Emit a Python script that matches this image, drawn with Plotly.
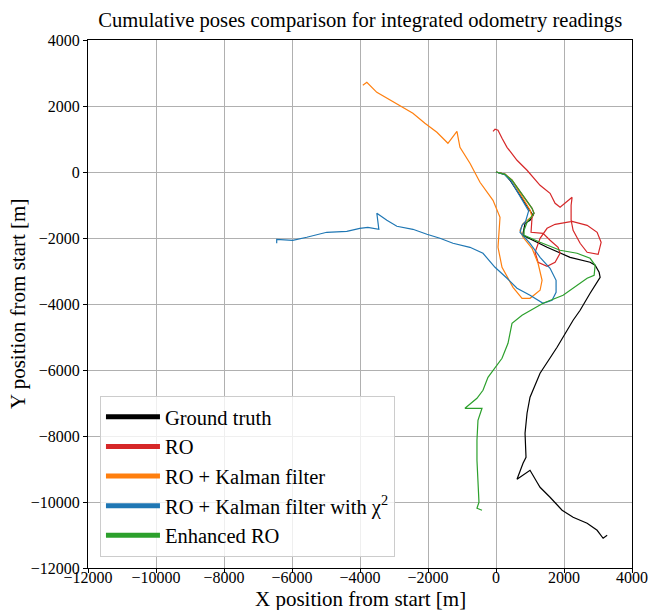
import plotly.graph_objects as go

# Ground truth
gt_x = [0, 265, 412, 1001, 1090, 1001, 854, 795, 795, 1502, 1885, 2179, 2768, 2916, 3033, 3063,
        2768, 2474, 2268, 1796, 1296, 1001, 913, 854, 883, 795, 618, 1001, 1207, 1296, 1590,
        1944, 2268, 2680, 2974, 3151, 3269]
gt_y = [0, -70, -250, -1160, -1312, -1463, -1554, -1857, -1918, -2282, -2463, -2585, -2736, -2827,
        -3039, -3191, -3675, -4190, -4493, -5311, -6099, -6826, -7311, -7917, -8644, -8826, -9311,
        -9038, -9402, -9554, -9857, -10251, -10463, -10645, -10857, -11099, -11008]

# RO
ro_x = [0, 265, 471, 1060, 1119, 1060, 1031, 1384, 1590, 1826, 1885, 1738, 1502, 1237, 1149, 1296,
        1502, 1738, 2238, 2680, 2974, 3092, 3004, 2680, 2474, 2268, 2209, 2209, 2238, 2032, 1885,
        1738, 1590, 1296, 913, 618, 324, 177, 59, -29, -88]
ro_y = [0, -70, -250, -1100, -1251, -1373, -1827, -1857, -2069, -2282, -2463, -2736, -2857, -2736,
        -2433, -2009, -1706, -1585, -1494, -1615, -1827, -2130, -2494, -2433, -2160, -1766, -1463,
        -1009, -767, -948, -1070, -948, -645, -403, 52, 355, 748, 1021, 1264, 1294, 1233]

# RO + Kalman filter
kf_x = [0, 265, 471, 1000, 1060, 795, 707, 795, 1060, 1237, 1355, 1296, 1001, 766, 501, 177, 59,
        118, 118, -88, -471, -766, -1060, -1149, -1414, -1738, -2091, -2444, -2739, -3210, -3505,
        -3799, -3917]
kf_y = [0, -70, -250, -1150, -1350, -1563, -1766, -1978, -2312, -2766, -3281, -3584, -3827, -3827,
        -3494, -2888, -2282, -1554, -1373, -857, -312, 264, 749, 1233, 870, 1203, 1476, 1779, 1961,
        2233, 2415, 2718, 2627]

# RO + Kalman filter with chi^2
kc_x = [0, 250, 440, 960, 870, 766, 707, 795, 1001, 1296, 1590, 1767, 1767, 1649, 1384, 1001, 618,
        324, -29, -383, -766, -1266, -1649, -2032, -2444, -2916, -3210, -3505, -3446, -3770, -4005,
        -4388, -4977, -5566, -5978, -6450, -6450]
kc_y = [0, -80, -270, -1180, -1500, -1615, -1827, -1918, -2160, -2585, -2918, -3281, -3645, -3887,
        -3978, -3736, -3524, -3221, -2888, -2463, -2282, -2160, -2009, -1888, -1736, -1645, -1463,
        -1251, -1736, -1676, -1706, -1797, -1827, -1978, -2069, -2039, -2160]

# Enhanced RO
en_x = [0, 265, 471, 1060, 1119, 1001, 913, 825, 825, 1296, 1885, 2385, 2768, 2916, 2886, 2680,
        1973, 1384, 766, 471, 353, 177, -88, -236, -383, -560, -913, -412, -530, -560, -560, -530,
        -501, -560, -412]
en_y = [0, -70, -250, -1100, -1251, -1403, -1524, -1766, -1918, -2130, -2372, -2463, -2615, -2827,
        -3130, -3221, -3736, -3978, -4342, -4584, -5190, -5645, -6008, -6221, -6615, -6857, -7160,
        -7160, -7524, -8130, -8735, -9554, -10008, -10190, -10251]

names = ["Ground truth", "RO", "RO + Kalman filter", "RO + Kalman filter with χ<sup>2</sup>", "Enhanced RO"]
colors = ["#000000", "#d62728", "#ff7f0e", "#1f77b4", "#2ca02c"]
series = [(gt_x, gt_y), (ro_x, ro_y), (kf_x, kf_y), (kc_x, kc_y), (en_x, en_y)]

tick_vals = [-12000, -10000, -8000, -6000, -4000, -2000, 0, 2000, 4000]
tick_text = ["−12000", "−10000", "−8000", "−6000", "−4000", "−2000", "0", "2000", "4000"]

FONT = "Liberation Serif"

fig = go.Figure()
for (xs, ys), c in zip(series, colors):
    fig.add_trace(go.Scatter(x=xs, y=ys, mode="lines", line=dict(color=c, width=1.2),
                             showlegend=False, hoverinfo="skip"))
for n, c in zip(names, colors):
    fig.add_trace(go.Scatter(x=[None], y=[None], mode="lines", name=n,
                             line=dict(color=c, width=5)))

axis_common = dict(
    tickvals=tick_vals, ticktext=tick_text, automargin=False,
    showline=True, linecolor="black", linewidth=1.2, mirror=True,
    ticks="outside", ticklen=4, tickcolor="black", tickwidth=1,
    showgrid=True, gridcolor="#b0b0b0", gridwidth=1,
    zeroline=False, tickfont=dict(family=FONT, size=16, color="black"),
)

fig.update_layout(
    width=664, height=610,
    margin=dict(l=88, r=32, t=40, b=42),
    paper_bgcolor="white", plot_bgcolor="white",
    title=dict(text="Cumulative poses comparison for integrated odometry readings",
               x=0.5425, xanchor="center", y=0.967, yanchor="middle",
               font=dict(family=FONT, size=20.6, color="black")),
    xaxis=dict(range=[-12000, 4000], ticklabelstandoff=-9, **axis_common),
    yaxis=dict(range=[-12000, 4000], **axis_common),
    legend=dict(x=0.022, y=0.021, xanchor="left", yanchor="bottom",
                bgcolor="rgba(255,255,255,0.8)", bordercolor="#cccccc", borderwidth=1,
                font=dict(family=FONT, size=20.5, color="black"), itemwidth=54,
                tracegroupgap=0),
    annotations=[
        dict(text="X position from start [m]", xref="paper", yref="paper",
             x=0.5, y=-0.0595, xanchor="center", yanchor="middle", showarrow=False,
             font=dict(family=FONT, size=21, color="black")),
        dict(text="Y position from start [m]", xref="paper", yref="paper",
             x=-0.1287, y=0.5, xanchor="center", yanchor="middle", showarrow=False,
             textangle=-90, font=dict(family=FONT, size=21, color="black")),
    ],
)

fig.write_html("out.html")
